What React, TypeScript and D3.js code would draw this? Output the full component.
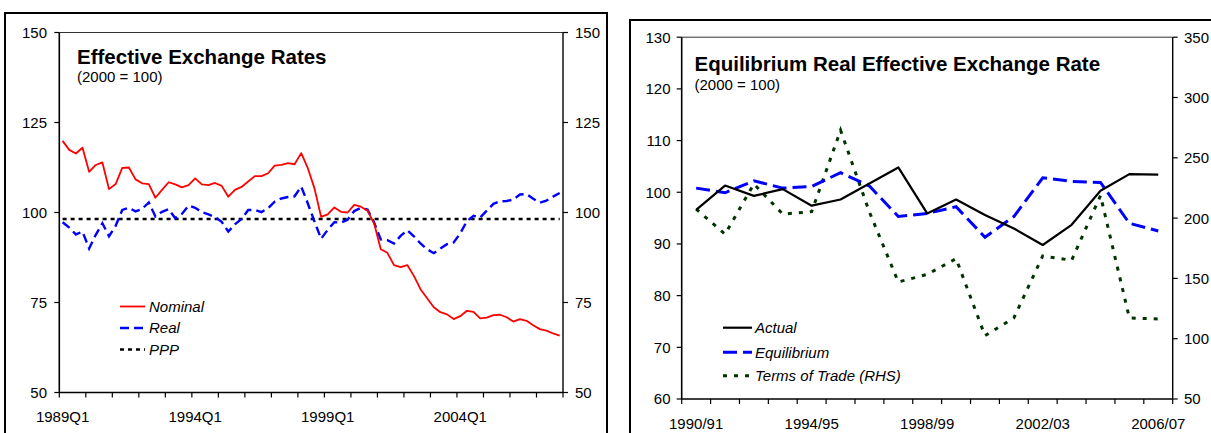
import React from 'react';
import * as d3 from 'd3';

// ---------- Left chart data: Effective Exchange Rates (2000 = 100), quarterly 1989Q1–2007Q4 ----------
const years = d3.range(1989, 2008);
const quarters: string[] = years.flatMap((y) => [1, 2, 3, 4].map((q) => `${y}Q${q}`));
const quarterTickLabels = ['1989Q1', '1994Q1', '1999Q1', '2004Q1'];
const nominal = [
  119.9, 117.4, 116.4, 118.0, 111.3, 113.2, 113.9, 106.5, 107.9, 112.4,
  112.5, 109.2, 108.1, 107.9, 104.1, 106.3, 108.4, 107.8, 107.0, 107.6,
  109.5, 107.8, 107.6, 108.2, 107.4, 104.4, 106.3, 107.1, 108.6, 110.1,
  110.1, 110.9, 113.0, 113.2, 113.7, 113.4, 116.5, 112.3, 106.7, 98.8,
  99.5, 101.4, 100.2, 100.0, 102.1, 101.6, 100.5, 97.0, 89.8, 88.8,
  85.4, 84.8, 85.4, 82.4, 78.7, 76.2, 73.7, 72.3, 71.7, 70.4,
  71.2, 72.7, 72.4, 70.6, 70.8, 71.5, 71.6, 70.9, 69.7, 70.4,
  69.9, 68.7, 67.6, 67.2, 66.4, 65.8,
];
const real = [
  97.3, 95.8, 93.9, 94.7, 90.0, 93.8, 97.0, 93.4, 96.3, 100.7,
  101.3, 100.3, 101.0, 102.8, 98.9, 100.2, 100.9, 98.4, 99.6, 101.9,
  101.3, 100.1, 99.5, 98.7, 97.4, 94.7, 96.7, 98.2, 100.7, 100.7,
  100.1, 101.2, 103.0, 103.9, 104.3, 104.5, 107.2, 102.5, 97.5, 92.7,
  95.2, 97.3, 97.2, 98.0, 100.4, 101.3, 100.8, 97.2, 92.5, 92.3,
  91.4, 93.5, 95.1, 93.4, 91.4, 89.8, 88.7, 90.0, 91.2, 91.7,
  94.2, 97.6, 99.1, 98.6, 100.5, 102.4, 103.1, 103.2, 103.6, 105.0,
  105.1, 103.8, 102.7, 103.3, 104.4, 105.4,
];
const pppLevel = 98.2;
const leftTicks = [50, 75, 100, 125, 150];

// ---------- Right chart data: Equilibrium Real Effective Exchange Rate ----------
const fiscalYears = [
  '1990/91', '1991/92', '1992/93', '1993/94', '1994/95', '1995/96', '1996/97', '1997/98', '1998/99',
  '1999/00', '2000/01', '2001/02', '2002/03', '2003/04', '2004/05', '2005/06', '2006/07',
];
const fiscalTickLabels = ['1990/91', '1994/95', '1998/99', '2002/03', '2006/07'];
const actual = [96.6, 101.3, 99.3, 100.6, 97.4, 98.6, 101.7, 104.8, 95.9, 98.6, 95.6, 93.0, 89.8, 93.7, 100.3, 103.5, 103.4];
const equilibrium = [100.8, 99.9, 102.2, 100.8, 101.1, 103.8, 101.2, 95.3, 95.9, 97.2, 91.3, 95.3, 102.8, 102.1, 101.9, 94.0, 92.5];
const termsOfTrade = [207.5, 186.7, 228.3, 203.3, 205.3, 272.8, 205, 147, 153.3, 166.4, 102.5, 117.2, 168.6, 165, 218.6, 117.2, 116.4];
const rightTicksL = [60, 70, 80, 90, 100, 110, 120, 130];
const rightTicksR = [50, 100, 150, 200, 250, 300, 350];

const FONT = '"Liberation Sans", Arial, Helvetica, sans-serif';

export default function App() {
  // ----- left panel scales -----
  const L = { x0: 59.3, x1: 563, y0: 32.5, y1: 392.5 };
  const xL = d3.scaleBand<string>().domain(quarters).range([L.x0, L.x1]).padding(0);
  const yL = d3.scaleLinear().domain([50, 150]).range([L.y1, L.y0]);
  const cxL = (i: number) => (xL(quarters[i]) as number) + xL.bandwidth() / 2;
  const lineL = d3.line<number>().x((_, i) => cxL(i)).y((d) => yL(d));
  const xTicksL = quarters.map((q, i) => i).filter((i) => i % 4 === 0).map((i) => xL(quarters[i]) as number).concat([L.x1]);

  // ----- right panel scales -----
  const R = { x0: 681.7, x1: 1172.7, y0: 37.2, y1: 399 };
  const xR = d3.scaleBand<string>().domain(fiscalYears).range([R.x0, R.x1]).padding(0);
  const yR = d3.scaleLinear().domain([60, 130]).range([R.y1, R.y0]);
  const yR2 = d3.scaleLinear().domain([50, 350]).range([R.y1, R.y0]);
  const cxR = (i: number) => (xR(fiscalYears[i]) as number) + xR.bandwidth() / 2;
  const lineR = d3.line<number>().x((_, i) => cxR(i)).y((d) => yR(d));
  const lineR2 = d3.line<number>().x((_, i) => cxR(i)).y((d) => yR2(d));
  const xTicksR = fiscalYears.map((f) => xR(f) as number).concat([R.x1]);

  const txt = { fontFamily: FONT, fontSize: 15, fill: '#000' } as const;

  return (
    <svg width={1211} height={433} style={{ position: 'absolute', left: 0, top: 0, background: '#fff' }}>
      <rect x={0} y={0} width={1211} height={433} fill="#fff" />

      {/* ================= LEFT PANEL ================= */}
      <rect x={5} y={13} width={602} height={440} fill="none" stroke="#000" strokeWidth={2} />
      {/* plot frame */}
      <line x1={L.x0} x2={L.x1} y1={L.y0} y2={L.y0} stroke="#333" strokeWidth={1} />
      <line x1={L.x0} x2={L.x0} y1={L.y0} y2={L.y1} stroke="#000" strokeWidth={1.6} />
      <line x1={L.x1} x2={L.x1} y1={L.y0} y2={L.y1} stroke="#000" strokeWidth={1.4} />
      <line x1={L.x0} x2={L.x1} y1={L.y1} y2={L.y1} stroke="#000" strokeWidth={1.6} />
      {leftTicks.map((t) => (
        <g key={'lt' + t}>
          <line x1={L.x0 - 5} x2={L.x0} y1={yL(t)} y2={yL(t)} stroke="#000" strokeWidth={1.2} />
          <line x1={L.x1} x2={L.x1 + 5} y1={yL(t)} y2={yL(t)} stroke="#000" strokeWidth={1.2} />
          <text x={47} y={yL(t)} dy="0.36em" textAnchor="end" {...txt}>{t}</text>
          <text x={575} y={yL(t)} dy="0.36em" textAnchor="start" {...txt}>{t}</text>
        </g>
      ))}
      {xTicksL.map((x, i) => (
        <line key={'lx' + i} x1={x} x2={x} y1={L.y1} y2={L.y1 + 5} stroke="#000" strokeWidth={1.2} />
      ))}
      {quarterTickLabels.map((q) => (
        <text key={q} x={cxL(quarters.indexOf(q))} y={421.5} textAnchor="middle" {...txt}>{q}</text>
      ))}
      {/* series */}
      <line x1={cxL(0)} x2={cxL(quarters.length - 1)} y1={yL(pppLevel)} y2={yL(pppLevel)} stroke="#000" strokeWidth={2.5} strokeDasharray="4,4" />
      <path d={lineL(real) as string} fill="none" stroke="#0000ff" strokeWidth={2.4} strokeDasharray="9,5" />
      <path d={lineL(nominal) as string} fill="none" stroke="#ff0000" strokeWidth={1.8} strokeLinejoin="round" />
      {/* titles */}
      <text x={77} y={63.5} fontFamily={FONT} fontSize={20.5} fontWeight="bold">Effective Exchange Rates</text>
      <text x={77} y={82} {...txt}>(2000 = 100)</text>
      {/* legend */}
      <line x1={120} x2={145} y1={306.5} y2={306.5} stroke="#ff0000" strokeWidth={1.8} />
      <text x={149} y={306.5} dy="0.36em" {...txt} fontStyle="italic">Nominal</text>
      <line x1={120} x2={145} y1={328} y2={328} stroke="#0000ff" strokeWidth={2.4} strokeDasharray="9,5" />
      <text x={149} y={328} dy="0.36em" {...txt} fontStyle="italic">Real</text>
      <line x1={120} x2={145} y1={349.5} y2={349.5} stroke="#000" strokeWidth={2.5} strokeDasharray="4,4" />
      <text x={149} y={349.5} dy="0.36em" {...txt} fontStyle="italic">PPP</text>

      {/* ================= RIGHT PANEL ================= */}
      <rect x={630} y={20} width={620} height={440} fill="none" stroke="#000" strokeWidth={2} />
      <line x1={R.x0} x2={R.x1} y1={R.y0} y2={R.y0} stroke="#333" strokeWidth={1} />
      <line x1={R.x0} x2={R.x0} y1={R.y0} y2={R.y1} stroke="#000" strokeWidth={1.6} />
      <line x1={R.x1} x2={R.x1} y1={R.y0} y2={R.y1} stroke="#000" strokeWidth={1.4} />
      <line x1={R.x0} x2={R.x1} y1={R.y1} y2={R.y1} stroke="#000" strokeWidth={1.6} />
      {rightTicksL.map((t) => (
        <g key={'rl' + t}>
          <line x1={R.x0 - 5} x2={R.x0} y1={yR(t)} y2={yR(t)} stroke="#000" strokeWidth={1.2} />
          <text x={670.5} y={yR(t)} dy="0.36em" textAnchor="end" {...txt}>{t}</text>
        </g>
      ))}
      {rightTicksR.map((t) => (
        <g key={'rr' + t}>
          <line x1={R.x1} x2={R.x1 + 5} y1={yR2(t)} y2={yR2(t)} stroke="#000" strokeWidth={1.2} />
          <text x={1184} y={yR2(t)} dy="0.36em" textAnchor="start" {...txt}>{t}</text>
        </g>
      ))}
      {xTicksR.map((x, i) => (
        <line key={'rx' + i} x1={x} x2={x} y1={R.y1} y2={R.y1 + 5} stroke="#000" strokeWidth={1.2} />
      ))}
      {fiscalTickLabels.map((f) => (
        <text key={f} x={cxR(fiscalYears.indexOf(f))} y={428.5} textAnchor="middle" {...txt}>{f}</text>
      ))}
      {/* series */}
      <path d={lineR2(termsOfTrade) as string} fill="none" stroke="#003300" strokeWidth={3} strokeDasharray="4,7" />
      <path d={lineR(equilibrium) as string} fill="none" stroke="#0000ff" strokeWidth={3} strokeDasharray="14,6" />
      <path d={lineR(actual) as string} fill="none" stroke="#000" strokeWidth={2.2} strokeLinejoin="round" />
      {/* titles */}
      <text x={694.5} y={71} fontFamily={FONT} fontSize={20.5} fontWeight="bold">Equilibrium Real Effective Exchange Rate</text>
      <text x={694.5} y={90} {...txt}>(2000 = 100)</text>
      {/* legend */}
      <line x1={723} x2={752} y1={327.7} y2={327.7} stroke="#000" strokeWidth={2.2} />
      <text x={755} y={327.7} dy="0.36em" {...txt} fontStyle="italic">Actual</text>
      <line x1={723} x2={752} y1={352.3} y2={352.3} stroke="#0000ff" strokeWidth={3} strokeDasharray="14,6" />
      <text x={755} y={352.3} dy="0.36em" {...txt} fontStyle="italic">Equilibrium</text>
      <line x1={723} x2={752} y1={375.7} y2={375.7} stroke="#003300" strokeWidth={3} strokeDasharray="4,7" />
      <text x={755} y={375.7} dy="0.36em" {...txt} fontStyle="italic">Terms of Trade (RHS)</text>
    </svg>
  );
}
